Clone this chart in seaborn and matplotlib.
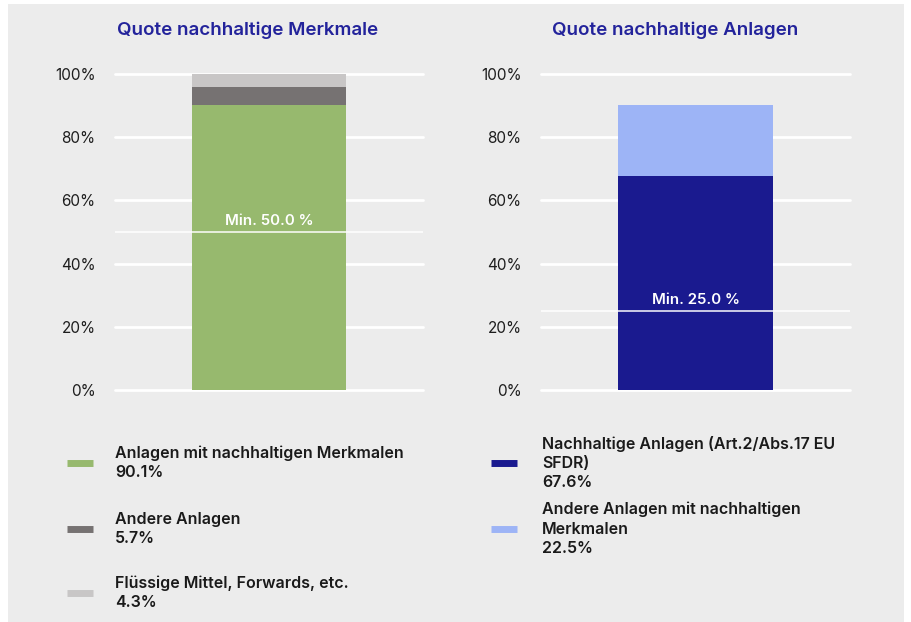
import numpy as np
import pandas as pd
import seaborn as sns
import matplotlib.pyplot as plt
from matplotlib.patches import Rectangle
from matplotlib.lines import Line2D

# data
left_title = "Quote nachhaltige Merkmale"
left_labels = ["Anlagen mit nachhaltigen Merkmalen", "Andere Anlagen", "Flüssige Mittel, Forwards, etc."]
left_values = [90.1, 5.7, 4.3]
left_colors = ["#97b96e", "#767272", "#c8c6c6"]
left_min = 50.0

right_title = "Quote nachhaltige Anlagen"
right_labels = ["Nachhaltige Anlagen (Art.2/Abs.17 EU\nSFDR)", "Andere Anlagen mit nachhaltigen\nMerkmalen"]
right_values = [67.6, 22.5]
right_colors = ["#1a1a8f", "#9db4f6"]
right_min = 25.0

yticks = [0, 20, 40, 60, 80, 100]
ytick_labels = ["0%", "20%", "40%", "60%", "80%", "100%"]

sns.set_theme(style="white")
plt.rcParams['font.family'] = ['Inter', 'DejaVu Sans']

W, H = 911, 622
fig = plt.figure(figsize=(W / 100, H / 100), dpi=100)
fig.patch.set_facecolor("white")
bg = "#ececec"
fig.add_artist(Rectangle((8 / W, 0), (904 - 8) / W, (622 - 4) / H,
                         transform=fig.transFigure, facecolor=bg, edgecolor="none", zorder=-10))


def px(x, y):
    return x / W, 1 - y / H


def draw_panel(rect, title, title_x, labels, values, colors, min_val):
    ax = fig.add_axes(rect)
    ax.set_facecolor("none")
    for y in yticks:
        ax.axhline(y, color="white", lw=2, zorder=0, clip_on=False)
    # stacked bar drawn as overlaid cumulative totals, largest first
    cum = np.cumsum(values)
    for i in range(len(values) - 1, -1, -1):
        df = pd.DataFrame({"cat": ["x"], "val": [min(cum[i], 100)]})
        sns.barplot(data=df, x="cat", y="val", color=colors[i], width=1,
                    saturation=1, linewidth=0, edgecolor="none", ax=ax, zorder=2)
    ax.axhline(min_val, color="white", lw=1.2, alpha=0.9, zorder=4)
    ax.text(0, min_val + 1.3, f"Min. {min_val:.1f} %", ha="center", va="bottom",
            color="white", fontsize=10.8, fontweight="semibold", zorder=5)
    ax.set_xlim(-1, 1)
    ax.set_ylim(0, 100)
    ax.set_yticks(yticks)
    ax.set_yticklabels(ytick_labels, fontsize=11, color="#1e1e1e")
    ax.tick_params(axis="y", length=0, pad=14)
    ax.set_xticks([])
    ax.set_xlabel("")
    ax.set_ylabel("")
    sns.despine(ax=ax, left=True, bottom=True)
    tx, ty = px(title_x, 30)
    fig.text(tx, ty, title, ha="center", va="center", fontsize=13.5,
             fontweight="semibold", color="#23239b")
    return ax


draw_panel([115 / W, 1 - 390 / H, 308 / W, 316 / H], left_title, 248,
           left_labels, left_values, left_colors, left_min)
draw_panel([541 / W, 1 - 390 / H, 309 / W, 316 / H], right_title, 675,
           right_labels, right_values, right_colors, right_min)


def legend_entry(x_mark, x_text, y_mark, label, value, color):
    x0, y0 = px(x_mark, y_mark)
    x1, _ = px(x_mark + 26, y_mark)
    fig.add_artist(Line2D([x0, x1], [y0, y0], transform=fig.transFigure,
                          color=color, lw=5, solid_capstyle="butt"))
    lines = label.split("\n") + [f"{value:.1f}%"]
    n = len(lines)
    top = y_mark - (n - 1) * 19.5 / 2
    for k, line in enumerate(lines):
        tx, ty = px(x_text, top + k * 19.5)
        fig.text(tx, ty, line, ha="left", va="center", fontsize=11.5,
                 fontweight="semibold", color="#1a1a1a")


for lab, val, col, ym in zip(left_labels, left_values, left_colors, [463, 529, 593]):
    legend_entry(67, 115, ym, lab, val, col)
for lab, val, col, ym in zip(right_labels, right_values, right_colors, [463, 529]):
    legend_entry(491, 542, ym, lab, val, col)

fig.savefig("out.png", dpi=100, facecolor=fig.get_facecolor())
